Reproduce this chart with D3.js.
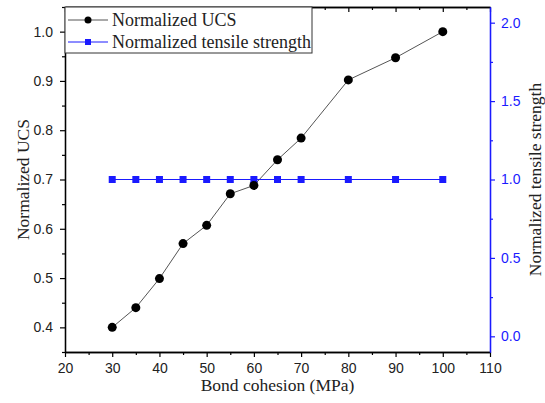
<!DOCTYPE html>
<html><head><meta charset="utf-8">
<script src="https://d3js.org/d3.v7.min.js"></script>
<style>body{margin:0;background:#fff}svg{display:block}</style>
</head><body><script>
const cohesion = [30,35,40,45,50,55,60,65,70,80,90,100];
const ucs = [0.40,0.44,0.499,0.570,0.607,0.671,0.688,0.740,0.784,0.902,0.947,1.0];
const tensile = [1,1,1,1,1,1,1,1,1,1,1,1];
const xTicks = [20,30,40,50,60,70,80,90,100,110];
const yLeftTicks = [0.4,0.5,0.6,0.7,0.8,0.9,1.0];
const yRightTicks = [0.0,0.5,1.0,1.5,2.0];
const seriesNames = ["Normalized UCS","Normalized tensile strength"];

const W=545,H=403;
const m={l:65,r:55,t:7,b:51};
const svg=d3.select("body").append("svg").attr("width",W).attr("height",H);
const x=d3.scaleLinear().domain([20,110]).range([m.l,W-m.r]);
const yL=d3.scaleLinear().domain([0.35,1.05]).range([H-m.b,m.t]);
const yR=d3.scaleLinear().domain([-0.1,2.1]).range([H-m.b,m.t]);
const blue="#1a1aff";
const sans="'Liberation Sans',Arial,sans-serif", serif="'Liberation Serif','Times New Roman',serif";

function style(g,col){
  g.select(".domain").attr("stroke",col).attr("stroke-width",1.3);
  g.selectAll(".tick line").attr("stroke",col).attr("stroke-width",1.2);
  g.selectAll("text").attr("fill",col==="#000"?"#222":col).style("font-family",sans).style("font-size","14px");
}
// minor ticks
const xMinor=d3.range(25,110,10);
svg.append("g").attr("transform",`translate(0,${H-m.b})`)
  .call(d3.axisBottom(x).tickValues(xMinor).tickSize(3).tickFormat("").tickSizeOuter(0)).call(g=>style(g,"#000"));
svg.append("g").attr("transform",`translate(0,${H-m.b})`)
  .call(d3.axisBottom(x).tickValues(xTicks).tickSize(5).tickFormat(d3.format("d")).tickSizeOuter(0)).call(g=>style(g,"#000"))
  .selectAll("text").attr("dy","0.95em");
// top
svg.append("g").attr("transform",`translate(0,${m.t})`)
  .call(d3.axisTop(x).tickValues(xMinor).tickSize(-3).tickFormat("").tickSizeOuter(0)).call(g=>style(g,"#000"));
svg.append("g").attr("transform",`translate(0,${m.t})`)
  .call(d3.axisTop(x).tickValues(xTicks).tickSize(-5).tickFormat("").tickSizeOuter(0)).call(g=>style(g,"#000"));
// left
svg.append("g").attr("transform",`translate(${m.l},0)`)
  .call(d3.axisLeft(yL).tickValues(d3.range(0.35,1.06,0.1)).tickSize(3).tickFormat("").tickSizeOuter(0)).call(g=>style(g,"#000"));
svg.append("g").attr("transform",`translate(${m.l},0)`)
  .call(d3.axisLeft(yL).tickValues(yLeftTicks).tickSize(5).tickPadding(7).tickFormat(d3.format(".1f")).tickSizeOuter(0)).call(g=>style(g,"#000"));
// right
svg.append("g").attr("transform",`translate(${W-m.r},0)`)
  .call(d3.axisRight(yR).tickValues([0.25,0.75,1.25,1.75]).tickSize(3).tickFormat("").tickSizeOuter(0)).call(g=>style(g,blue));
svg.append("g").attr("transform",`translate(${W-m.r},0)`)
  .call(d3.axisRight(yR).tickValues(yRightTicks).tickSize(5).tickPadding(6).tickFormat(d3.format(".1f")).tickSizeOuter(0)).call(g=>style(g,blue));

// titles
svg.append("text").attr("x",(m.l+W-m.r)/2).attr("y",H-12).attr("text-anchor","middle")
  .style("font-family",serif).style("font-size","17.5px").attr("fill","#222").text("Bond cohesion (MPa)");
svg.append("text").attr("transform",`translate(29,${(m.t+H-m.b)/2}) rotate(-90)`).attr("text-anchor","middle")
  .style("font-family",serif).style("font-size","17.5px").attr("fill","#222").text("Normalized UCS");
svg.append("text").attr("transform",`translate(541,${(m.t+H-m.b)/2}) rotate(-90)`).attr("text-anchor","middle")
  .style("font-family",serif).style("font-size","17.5px").attr("fill","#222").text("Normalized tensile strength");

// series
const dU=cohesion.map((c,i)=>[c,ucs[i]]);
const dT=cohesion.map((c,i)=>[c,tensile[i]]);
svg.append("path").datum(dU).attr("fill","none").attr("stroke","#555").attr("stroke-width",1)
  .attr("d",d3.line().x(d=>x(d[0])).y(d=>yL(d[1])));
svg.append("path").datum(dT).attr("fill","none").attr("stroke",blue).attr("stroke-width",1)
  .attr("d",d3.line().x(d=>x(d[0])).y(d=>yR(d[1])));
svg.selectAll(".ptT").data(dT).enter().append("rect")
  .attr("x",d=>x(d[0])-3.5).attr("y",d=>yR(d[1])-3.5).attr("width",7).attr("height",7).attr("fill",blue);
svg.selectAll(".ptU").data(dU).enter().append("circle")
  .attr("cx",d=>x(d[0])).attr("cy",d=>yL(d[1])).attr("r",4.5).attr("fill","#000");

// legend
const lg=svg.append("g");
lg.append("rect").attr("x",m.l).attr("y",m.t).attr("width",247).attr("height",46).attr("fill","#fff").attr("stroke","#333").attr("stroke-width",1);
seriesNames.forEach((n,i)=>{
  const yy=m.t+13+i*22;
  const col=i===0?"#555":blue;
  lg.append("line").attr("x1",m.l+3).attr("x2",m.l+43).attr("y1",yy).attr("y2",yy).attr("stroke",col).attr("stroke-width",1);
  if(i===0) lg.append("circle").attr("cx",m.l+23).attr("cy",yy).attr("r",3.5).attr("fill","#000");
  else lg.append("rect").attr("x",m.l+20).attr("y",yy-3).attr("width",6).attr("height",6).attr("fill",blue);
  lg.append("text").attr("x",m.l+47).attr("y",yy).attr("dy","0.35em").style("font-family",serif).style("font-size","18px").attr("fill","#222").text(n);
});
</script></body></html>
